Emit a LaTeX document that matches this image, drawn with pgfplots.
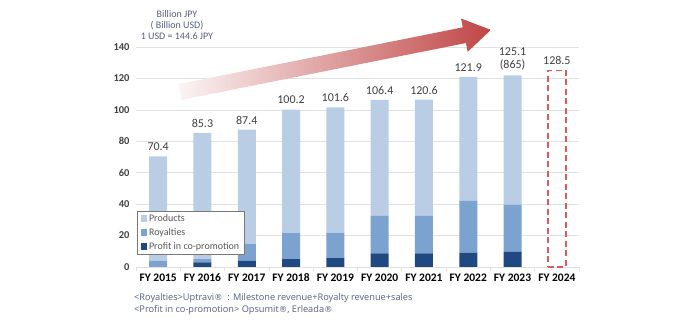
\documentclass[border=0pt]{standalone}
\usepackage{fontspec}
\setmainfont{Carlito}
\newfontfamily\dv{DejaVu Sans}
\newfontfamily\os{Open Sans}
\newcommand{\reg}{{\dv\fontsize{8.5}{10}\selectfont ®}}
\usepackage{pgfplots}
\pgfplotsset{compat=1.18}
\definecolor{prod}{RGB}{185,205,229}
\definecolor{roy}{RGB}{124,162,208}
\definecolor{prof}{RGB}{31,73,128}
\definecolor{gridgray}{RGB}{225,225,225}
\definecolor{dashred}{RGB}{220,90,90}
\definecolor{arrowred}{RGB}{192,70,70}
\definecolor{labgray}{RGB}{64,64,64}
\definecolor{footcol}{RGB}{85,95,130}
\definecolor{legtext}{RGB}{89,89,89}
\definecolor{legbox}{RGB}{120,120,120}
\begin{document}
\begin{tikzpicture}[x=1pt,y=1pt]
\useasboundingbox (0,0) rectangle (700,323);
\begin{axis}[
  at={(136pt,56pt)}, anchor=south west, scale only axis,
  width=443pt, height=220pt,
  ybar stacked, bar width=18pt,
  xmin=-0.5, xmax=9.5, ymin=0, ymax=140,
  xtick={0,...,9},
  xticklabels={FY 2015,FY 2016,FY 2017,FY 2018,FY 2019,FY 2020,FY 2021,FY 2022,FY 2023,FY 2024},
  minor xtick={-0.5,0.5,...,9.5},
  ytick={0,20,...,140},
  ymajorgrids, grid style={draw=gridgray, line width=0.7pt},
  axis x line*=bottom, axis y line*=left,
  x axis line style={draw=gridgray, line width=0.7pt},
  y axis line style={draw=none},
  major tick length=0pt, minor tick length=4pt, xtick align=outside,
  minor x tick style={draw=gridgray, line width=0.7pt},
  ytick style={draw=none},
  /pgf/number format/assume math mode=true,
  yticklabel style={font=\bfseries\fontsize{10.5}{12}\selectfont, text=labgray, xshift=-3pt},
  xticklabel style={font=\bfseries\fontsize{11.5}{13}\selectfont, text=black, yshift=-3pt},
  legend image code/.code={\fill[#1] (0pt,-3pt) rectangle (6.5pt,3.5pt);},
  reverse legend,
  legend style={at={(0.003,0.2545)}, anchor=north west, draw=legbox, fill=white,
    font=\fontsize{10}{12}\selectfont, text=legtext, inner xsep=3pt, inner ysep=1.5pt,
    row sep=1.5pt, cells={anchor=west}},
]
\addplot[fill=prof, draw=none] coordinates {(0,0) (1,3) (2,4) (3,5) (4,5.7) (5,8.7) (6,8.7) (7,9.1) (8,9.7)};
\addplot[fill=roy, draw=none] coordinates {(0,4) (1,2) (2,10.5) (3,16.5) (4,16.1) (5,23.8) (6,23.8) (7,32.9) (8,30)};
\addplot[fill=prod, draw=none] coordinates {(0,66.4) (1,80.3) (2,72.9) (3,78.7) (4,79.8) (5,73.9) (6,74) (7,79) (8,82.3)};
\legend{Profit in co-promotion, Royalties, Products}
\end{axis}
\begin{axis}[
  at={(136pt,56pt)}, anchor=south west, scale only axis,
  width=443pt, height=220pt, hide axis,
  xmin=-0.5, xmax=9.5, ymin=0, ymax=140, clip=false,
]
\addplot[ybar, bar width=18pt, draw=dashred, dash pattern=on 6pt off 3.5pt, line width=1.6pt, fill=none] coordinates {(9,125)};
\addplot[only marks, mark=none, nodes near coords, point meta=explicit symbolic,
  nodes near coords style={anchor=south, align=center, font=\fontsize{12}{12.5}\selectfont, text=labgray, yshift=2pt}]
  coordinates {(0,70.4)[70.4] (1,85.3)[85.3] (2,87.4)[87.4] (3,100.2)[100.2] (4,101.6)[101.6] (5,106.4)[106.4] (6,106.5)[120.6] (7,121)[121.9] (8,122)[{125.1\\(865)}] (9,125)[128.5]};
\end{axis}
\begin{scope}[shift={(180,231)}, rotate=11.3]
\shade[left color=arrowred!6, right color=arrowred] (0,-8) -- (290,-8) -- (290,-17) -- (317,0) -- (290,17) -- (290,8) -- (0,8) -- cycle;
\end{scope}
\node[align=center, font=\fontsize{10}{11}\selectfont, text=footcol] at (177,298) {Billion JPY\\( Billion USD)\\1 USD = 144.6 JPY};
\node[anchor=west, font=\os\fontsize{9.2}{12}\selectfont, text=footcol, inner sep=0pt] at (134,25) {<Royalties>Uptravi\reg\ \ : Milestone revenue+Royalty revenue+sales};
\node[anchor=west, font=\os\fontsize{9.2}{12}\selectfont, text=footcol, inner sep=0pt] at (134,13) {<Profit in co-promotion> Opsumit\reg, Erleada\reg};
\end{tikzpicture}
\end{document}
